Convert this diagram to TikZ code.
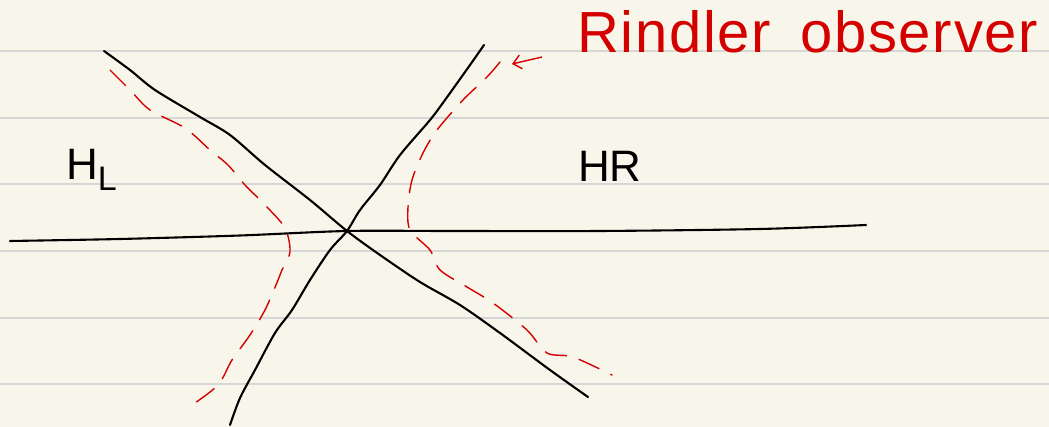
\documentclass[tikz,border=0pt]{standalone}
\usepackage{fontspec}
\setmainfont{Liberation Sans}
\usetikzlibrary{arrows.meta}
\definecolor{paper}{HTML}{F8F6EA}
\definecolor{rule}{HTML}{D6D6D6}
\definecolor{ink}{HTML}{D40000}
\tikzset{
  ruling/.style={rule, line width=1.8pt},
  axis/.style={black, line width=2.1pt, line cap=round, line join=round},
  observer/.style={ink, line width=1.4pt, dash pattern=on 22pt off 13pt, line cap=round},
  redtext/.style={ink, font=\fontsize{58}{60}\selectfont\addfontfeature{LetterSpace=3}, inner sep=0pt, anchor=base west},
  blacklabel/.style={black, font=\fontsize{44}{46}\selectfont, inner sep=0pt, anchor=base west},
}
\begin{document}
\begin{tikzpicture}[x=1pt,y=-1pt]
\fill[paper] (0,0) rectangle (1049,427);
\useasboundingbox (0,0) rectangle (1049,427);
\foreach \yy in {51,118,184,251,318,384} \draw[ruling] (0,\yy) -- (1049,\yy);
% axes / horizons
\draw[axis] plot[smooth] coordinates {(10,241) (120,239) (240,235.5) (347,231) (450,231) (600,231) (760,229) (866,225)};
\draw[axis] plot[smooth] coordinates {(104,51) (130,70) (155,90) (200,117) (230,135) (265,165) (310,200) (347,231) (380,255) (420,282) (460,305) (500,333) (550,370) (588,397)};
\draw[axis] plot[smooth] coordinates {(484,45) (470,65) (445,100) (430,120) (400,155) (380,185) (360,210) (347,231) (330,250) (310,280) (292,310) (275,333) (255,370) (240,398) (230,425)};
% Rindler observers
\draw[observer] plot[smooth] coordinates {(110,70) (130,90) (150,110) (185,128) (210,150) (228,165) (245,185) (265,205) (285,228) (290,252) (282,270) (276,285) (265,310) (250,335) (232,360) (218,385) (192,405)};
\draw[observer] plot[smooth] coordinates {(500,62) (487,77) (463,100) (437,130) (423,153) (412,180) (408,207) (410,230) (430,250) (440,270) (467,287) (493,303) (527,330) (547,353) (573,357) (612,375)};
% labels
\node[redtext] (rindler) at (577,53) {Rindler\hspace{0.5em}observer};
\coordinate (arrowtail) at (542,57);
\coordinate (arrowtip) at (512,64);
\draw[ink, line width=1.4pt, -{Straight Barb[length=8pt,width=14pt]}] (arrowtail) -- (arrowtip);
\node[blacklabel] (hl) at (66,180) {H\raisebox{-0.45ex}{\fontsize{34}{36}\selectfont L}};
\node[blacklabel] (hr) at (578,182) {HR};
\end{tikzpicture}
\end{document}
